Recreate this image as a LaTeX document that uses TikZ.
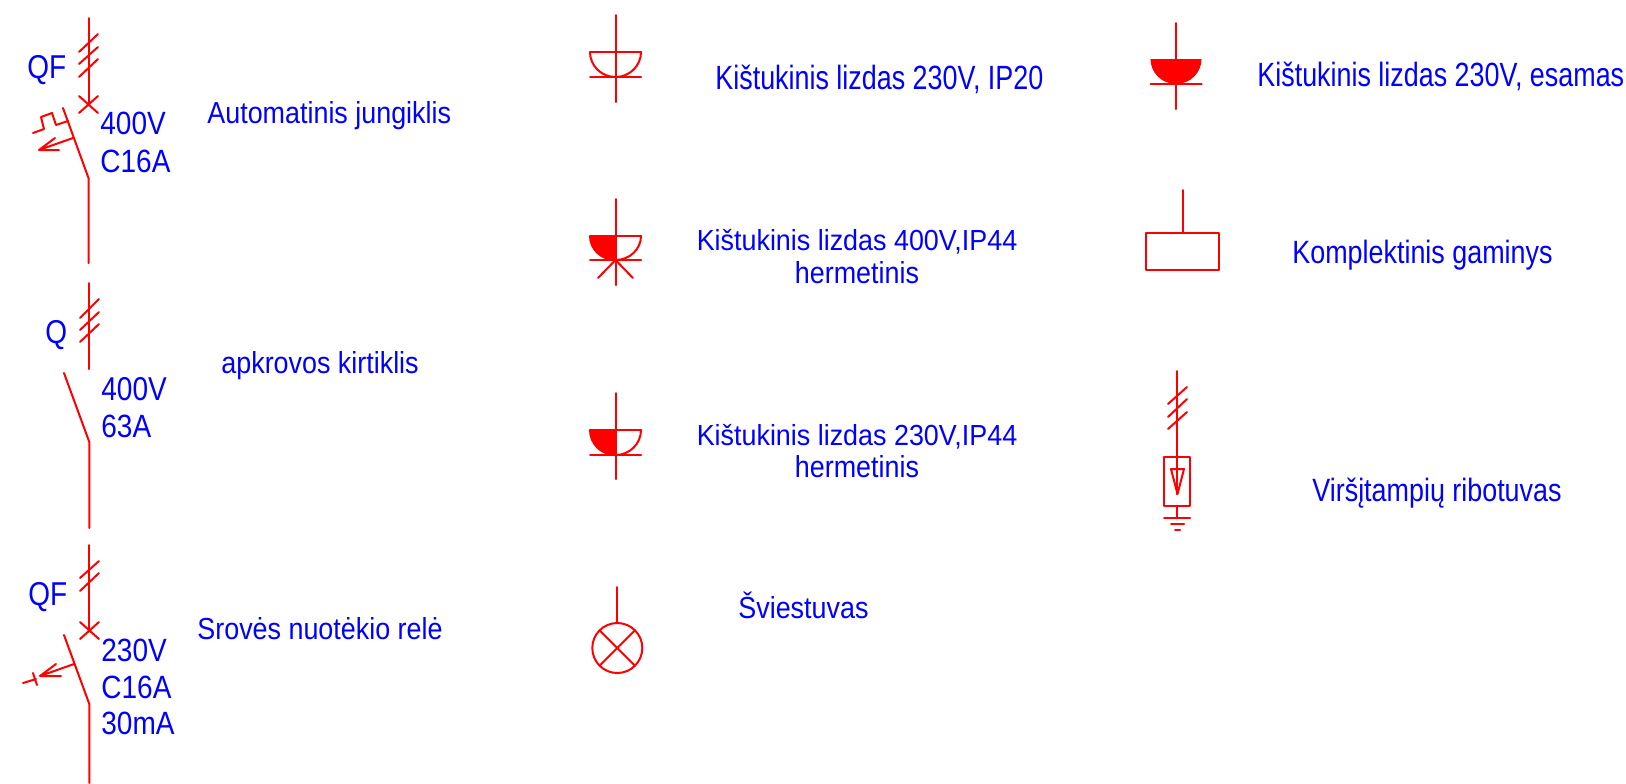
\documentclass[tikz,border=0pt]{standalone}
\usepackage{fontspec}
\usepackage{graphicx}
\setmainfont{Liberation Sans}
\definecolor{sym}{RGB}{255,0,0}
\definecolor{txt}{RGB}{0,0,255}
\newcommand{\tall}[2]{\scalebox{1}[#1]{#2}}
\tikzset{
  sy/.style={draw=sym,line width=1pt,line cap=round,line join=round},
  lab/.style={text=txt,inner sep=0pt,anchor=base west,font=\fontsize{13.45pt}{16pt}\selectfont},
  labc/.style={text=txt,inner sep=0pt,anchor=base,font=\fontsize{13.45pt}{16pt}\selectfont},
  labs/.style={text=txt,inner sep=0pt,anchor=base west,font=\fontsize{14pt}{16pt}\selectfont}
}
\begin{document}
\begin{tikzpicture}[x=0.5pt,y=-0.5pt]
\useasboundingbox (0,0) rectangle (1626,783);
% --- automatic breaker
\path[sy] (88.5,18) -- (88.5,105);
\path[sy] (79,52)--(98,34) (79,64)--(98,47) (79,77)--(98,59);
\path[sy] (79,113)--(98,96) (79,96)--(98,113);
\path[sy] (63,108)--(88.5,178)--(88.5,263);
\path[sy] (33,133)--(44,129)--(41,117)--(52,113)--(56,125)--(68,121);
\path[sy] (73,138)--(39,150) (55,138)--(39,150)--(59,150);
\node[labs] (qfa) at (27,78.5) {\tall{1.18}{QF}};
\node[labs] (va) at (100,134) {\tall{1.15}{400V}};
\node[labs] (ca) at (100,172) {\tall{1.15}{C16A}};
\node[lab] (ta) at (207,123) {\tall{1.13}{Automatinis jungiklis}};
% --- load switch
\path[sy] (89.3,283)--(89.3,369);
\path[sy] (80,318)--(99,299) (80,330)--(99,312) (80,342)--(99,324);
\path[sy] (64,373)--(89.3,442)--(89.3,528);
\node[labs] (qb) at (45,343) {\tall{1.18}{Q}};
\node[labs] (vb) at (101,400) {\tall{1.18}{400V}};
\node[labs] (cb) at (101,437) {\tall{1.15}{63A}};
\node[lab] (tb) at (221,373) {\tall{1.13}{apkrovos kirtiklis}};
% --- residual current relay
\path[sy] (89.3,545)--(89.3,630);
\path[sy] (80,578)--(99,561) (80,591)--(99,573);
\path[sy] (80,639)--(99,622) (80,622)--(99,639);
\path[sy] (64,635)--(89.3,704)--(89.3,783);
\path[sy] (74,664)--(40,676) (56,664)--(40,676)--(61,676);
\path[sy] (23,683)--(36,679) (33,673)--(37,685);
\node[labs] (qc) at (28,605) {\tall{1.18}{QF}};
\node[labs] (vc) at (101,661) {\tall{1.15}{230V}};
\node[labs] (cc) at (101,698) {\tall{1.15}{C16A}};
\node[labs] (mc) at (101,734) {\tall{1.15}{30mA}};
\node[lab] (tc) at (197,639) {\tall{1.13}{Srovės nuotėkio relė}};
% --- socket 230 IP20
\path[sy] (615.5,15)--(615.5,102);
\path[sy] (590,52)--(641,52) (590,77)--(641,77);
\path[sy] (590,52) arc[start angle=180,end angle=360,x radius=25.5,y radius=-25];
\node[lab] (td) at (715,89) {\tall{1.25}{Kištukinis lizdas 230V, IP20}};
% --- socket 400 IP44
\path[fill=sym] (590,236) arc[start angle=180,end angle=270,x radius=25.5,y radius=-24] -- (615.5,236) -- cycle;
\path[sy] (615.5,199)--(615.5,285);
\path[sy] (590,236)--(641,236) (590,260)--(641,260);
\path[sy] (590,236) arc[start angle=180,end angle=360,x radius=25.5,y radius=-24];
\path[sy] (598,278)--(615.5,260)--(633,278);
\node[labc] (te) at (857,250) {\tall{1.08}{Kištukinis lizdas 400V,IP44}};
\node[labc] (te2) at (857,283) {\tall{1.13}{hermetinis}};
% --- socket 230 IP44
\path[fill=sym] (590,430) arc[start angle=180,end angle=270,x radius=25.5,y radius=-25] -- (615.5,430) -- cycle;
\path[sy] (615.5,393)--(615.5,479);
\path[sy] (590,430)--(641,430) (590,455)--(641,455);
\path[sy] (590,430) arc[start angle=180,end angle=360,x radius=25.5,y radius=-25];
\node[labc] (tf) at (857,445) {\tall{1.08}{Kištukinis lizdas 230V,IP44}};
\node[labc] (tf2) at (857,477) {\tall{1.13}{hermetinis}};
% --- luminaire
\path[sy] (617.3,587)--(617.3,623);
\path[sy] (617.3,648) circle[radius=12.5pt];
\path[sy] (599.6,630.3)--(635,665.7) (635,630.3)--(599.6,665.7);
\node[lab] (tg) at (738,618) {\tall{1.13}{Šviestuvas}};
% --- existing socket
\path[fill=sym] (1150.5,59) arc[start angle=180,end angle=360,x radius=25.5,y radius=-25] -- cycle;
\path[sy] (1176,23)--(1176,109);
\path[sy] (1150.5,84)--(1201.5,84);
\node[lab] (th) at (1257,86) {\tall{1.25}{Kištukinis lizdas 230V, esamas}};
% --- assembled product
\path[sy] (1182.5,190)--(1182.5,233);
\path[sy] (1146,233) rectangle (1219,270);
\node[lab] (ti) at (1292,263) {\tall{1.2}{Komplektinis gaminys}};
% --- surge arrester
\path[sy] (1177,371)--(1177,494);
\path[sy] (1168,404)--(1187,387) (1168,417)--(1187,399) (1168,429)--(1187,412);
\path[sy] (1164,457) rectangle (1190,506);
\path[sy] (1171,469)--(1184,469)--(1177.5,494)--cycle;
\path[sy] (1177,506)--(1177,518);
\path[sy] (1164,518)--(1190,518) (1171,524)--(1184,524) (1175,530)--(1180,530);
\node[lab] (tj) at (1312,501) {\tall{1.2}{Viršįtampių ribotuvas}};
\end{tikzpicture}
\end{document}
